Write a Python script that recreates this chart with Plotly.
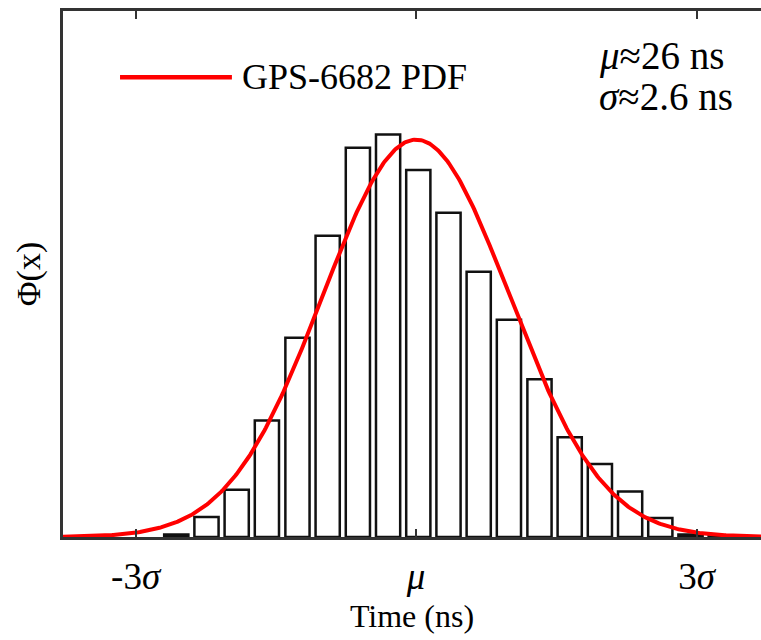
import numpy as np
import plotly.graph_objects as go

# ---- data ----
MU = 26.0      # ns
SIGMA = 2.6    # ns
BIN_WIDTH = 0.841  # ns

bin_centers = [19.33, 20.17, 21.01, 21.85, 22.70, 23.54, 24.38, 25.22, 26.06,
               26.90, 27.74, 28.58, 29.43, 30.27, 31.11, 31.95, 32.79, 33.63, 34.47]
density = [0.0010, 0.0077, 0.0182, 0.0450, 0.0769, 0.1163, 0.1503, 0.1554, 0.1417,
           0.1252, 0.1024, 0.0839, 0.0609, 0.0385, 0.0282, 0.0176, 0.0073, 0.0010, 0.0006]

tick_values = [MU - 3 * SIGMA, MU, MU + 3 * SIGMA]
tick_labels = ["-3<i>σ</i>", "<i>μ</i>", "3<i>σ</i>"]

X_RANGE = [16.18, 35.59]
Y_RANGE = [0, 0.2031]

x_pdf = np.linspace(X_RANGE[0], X_RANGE[1], 500)
y_pdf = np.exp(-0.5 * ((x_pdf - MU) / SIGMA) ** 2) / (SIGMA * np.sqrt(2 * np.pi))

FONT = "Liberation Serif, Times New Roman, serif"

fig = go.Figure()
fig.add_trace(go.Bar(
    x=bin_centers, y=density, width=0.8 * BIN_WIDTH,
    marker=dict(color="white", line=dict(color="#111111", width=2.5)),
    showlegend=False, name="Histogram",
))
fig.add_trace(go.Scatter(
    x=x_pdf, y=y_pdf, mode="lines", name="GPS-6682 PDF",
    line=dict(color="#ff0000", width=4), showlegend=False,
))

fig.update_layout(
    width=761, height=640,
    margin=dict(l=63, r=0, t=11, b=103, autoexpand=False),
    paper_bgcolor="white", plot_bgcolor="white",
    font=dict(family=FONT, color="black"),
    xaxis=dict(
        range=X_RANGE, tickmode="array", tickvals=tick_values, ticktext=tick_labels,
        ticks="inside", ticklen=8, tickwidth=2, tickcolor="#333",
        showline=True, linecolor="#333", linewidth=3, mirror="ticks",
        showgrid=False, zeroline=False,
        tickfont=dict(size=37, family=FONT), ticklabelstandoff=5,
        title=dict(text="Time (ns)", font=dict(size=32, family=FONT), standoff=9),
    ),
    yaxis=dict(
        range=Y_RANGE, showticklabels=False, ticks="",
        showline=True, linecolor="#333", linewidth=3, mirror=False,
        showgrid=False, zeroline=False,
        title=dict(text="Φ(x)", font=dict(size=34, family=FONT), standoff=10),
    ),
    shapes=[dict(type="line", xref="paper", yref="paper",
                 x0=0.0817, x1=0.242, y0=0.874, y1=0.874,
                 line=dict(color="#ff0000", width=4.5))],
    annotations=[
        dict(text="GPS-6682 PDF", xref="paper", yref="paper", x=0.2536, y=0.874,
             xanchor="left", yanchor="middle", showarrow=False,
             font=dict(size=36, family=FONT)),
        dict(text="<i>μ</i>≈26 ns", xref="paper", yref="paper", x=0.765, y=0.914,
             xanchor="left", yanchor="middle", showarrow=False,
             font=dict(size=39, family=FONT)),
        dict(text="<i>σ</i>≈2.6 ns", xref="paper", yref="paper", x=0.765, y=0.838,
             xanchor="left", yanchor="middle", showarrow=False,
             font=dict(size=39, family=FONT)),
    ],
)

fig.write_html("out.html", config={"displayModeBar": False},
               post_script="document.body.style.margin='0';")
